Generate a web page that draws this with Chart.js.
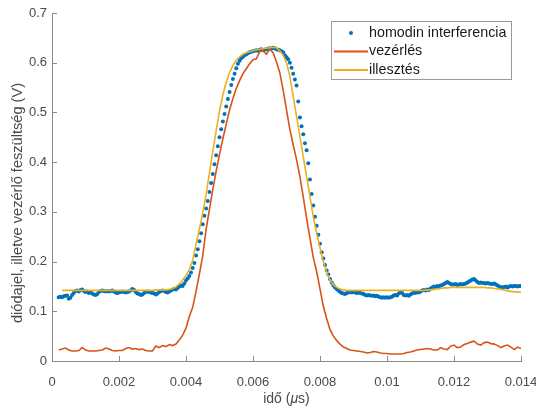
<!DOCTYPE html>
<html>
<head>
<meta charset="utf-8">
<script src="https://cdn.jsdelivr.net/npm/chart.js@4/dist/chart.umd.min.js"></script>
<style>
  html, body { margin: 0; padding: 0; background: #ffffff; }
  #plot { display: block; }
</style>
</head>
<body>
<canvas id="plot" width="536" height="410"></canvas>
<script>
// Homodyne interference signal (dots), sampled every 0.05 ns from 0.0002
const homodinStart = 0.0002;
const homodinStep = 0.00005;
const homodinValues = [
  0.128,0.129,0.128,0.130,0.131,0.132,0.125,0.127,0.133,0.137,0.141,0.142,0.140,0.143,0.144,0.141,0.139,0.140,0.137,0.139,
  0.136,0.134,0.133,0.135,0.139,0.141,0.142,0.141,0.140,0.141,0.140,0.141,0.142,0.140,0.138,0.137,0.138,0.139,0.140,0.139,
  0.138,0.139,0.140,0.142,0.145,0.143,0.139,0.136,0.135,0.133,0.134,0.137,0.139,0.140,0.139,0.138,0.137,0.136,0.134,0.136,
  0.139,0.141,0.142,0.141,0.139,0.138,0.140,0.142,0.144,0.145,0.144,0.147,0.150,0.152,0.151,0.156,0.162,0.166,0.171,0.178,
  0.187,0.197,0.212,0.225,0.241,0.257,0.275,0.292,0.307,0.322,0.340,0.358,0.376,0.396,0.414,0.432,0.450,0.466,0.482,0.497,
  0.512,0.527,0.541,0.555,0.567,0.578,0.589,0.598,0.604,0.609,0.612,0.615,0.617,0.619,0.621,0.622,0.623,0.624,0.625,0.624,
  0.626,0.627,0.625,0.626,0.627,0.628,0.629,0.628,0.630,0.629,0.627,0.626,0.625,0.623,0.621,0.615,0.611,0.607,0.600,0.590,
  0.578,0.566,0.554,0.522,0.490,0.472,0.456,0.438,0.424,0.398,0.365,0.336,0.313,0.290,0.272,0.254,0.236,0.219,0.206,0.193,
  0.182,0.174,0.165,0.158,0.152,0.148,0.145,0.142,0.139,0.137,0.136,0.135,0.137,0.138,0.139,0.138,0.139,0.138,0.137,0.138,
  0.137,0.136,0.135,0.133,0.132,0.133,0.132,0.131,0.132,0.130,0.131,0.129,0.128,0.127,0.128,0.127,0.128,0.127,0.128,0.129,
  0.132,0.133,0.132,0.136,0.138,0.137,0.133,0.132,0.133,0.131,0.134,0.136,0.138,0.137,0.139,0.138,0.140,0.142,0.143,0.142,
  0.144,0.143,0.146,0.148,0.150,0.149,0.151,0.150,0.152,0.153,0.155,0.157,0.159,0.157,0.155,0.154,0.154,0.155,0.153,0.154,
  0.155,0.154,0.155,0.156,0.158,0.160,0.162,0.164,0.165,0.162,0.159,0.157,0.158,0.157,0.157,0.156,0.157,0.156,0.155,0.155,
  0.156,0.154,0.152,0.150,0.149,0.148,0.149,0.150,0.148,0.150,0.151,0.150,0.151,0.151,0.150,0.151,0.151
];

// Modulator control voltage, every 0.1 ns from 0.0002
const vezerlesStart = 0.0002;
const vezerlesStep = 0.0001;
const vezerlesValues = [
  0.022,0.024,0.026,0.022,0.020,0.020,0.021,0.027,0.022,0.020,
  0.020,0.020,0.021,0.022,0.026,0.024,0.021,0.020,0.021,0.021,
  0.025,0.027,0.024,0.025,0.023,0.024,0.021,0.020,0.020,0.030,
  0.027,0.031,0.029,0.033,0.031,0.034,0.042,0.052,0.066,0.090,
  0.108,0.140,0.175,0.212,0.265,0.305,0.345,0.382,0.415,0.447,
  0.476,0.505,0.528,0.548,0.564,0.578,0.588,0.598,0.606,0.608,
  0.622,0.624,0.617,0.627,0.620,0.602,0.580,0.545,0.505,0.466,
  0.435,0.405,0.371,0.330,0.287,0.247,0.208,0.180,0.145,0.110,
  0.085,0.063,0.050,0.041,0.034,0.028,0.025,0.022,0.021,0.020,
  0.019,0.018,0.016,0.017,0.019,0.018,0.016,0.015,0.015,0.014,
  0.014,0.014,0.014,0.015,0.017,0.018,0.020,0.022,0.023,0.024,
  0.025,0.024,0.022,0.022,0.027,0.024,0.023,0.030,0.032,0.027,
  0.028,0.033,0.035,0.038,0.040,0.034,0.032,0.037,0.038,0.035,
  0.034,0.031,0.027,0.030,0.032,0.028,0.023,0.028,0.025
];

// Fitted curve, every 0.1 ns from 0.0003
const illesztesStart = 0.0003;
const illesztesStep = 0.0001;
const illesztesValues = [
  0.142,0.142,0.142,0.142,0.142,0.142,0.142,0.142,0.142,0.142,
  0.142,0.142,0.142,0.142,0.142,0.142,0.142,0.142,0.142,0.142,
  0.142,0.142,0.142,0.142,0.142,0.142,0.142,0.142,0.143,0.143,
  0.143,0.143,0.144,0.146,0.149,0.155,0.163,0.172,0.184,0.203,
  0.235,0.265,0.298,0.335,0.378,0.422,0.463,0.503,0.535,0.560,
  0.580,0.594,0.605,0.612,0.617,0.620,0.622,0.624,0.626,0.627,
  0.628,0.629,0.630,0.631,0.630,0.624,0.615,0.600,0.573,0.532,
  0.492,0.452,0.411,0.371,0.331,0.290,0.257,0.228,0.200,0.178,
  0.163,0.153,0.148,0.145,0.143,0.142,0.142,0.142,0.142,0.142,
  0.142,0.142,0.142,0.142,0.142,0.142,0.142,0.142,0.142,0.142,
  0.142,0.142,0.142,0.142,0.142,0.142,0.142,0.142,0.142,0.143,
  0.143,0.144,0.145,0.146,0.147,0.147,0.148,0.148,0.148,0.148,
  0.148,0.148,0.148,0.148,0.148,0.148,0.148,0.147,0.147,0.146,
  0.145,0.144,0.143,0.141,0.140,0.139,0.139,0.138
];

const seriesLabels = ['homodin interferencia', 'vezérlés', 'illesztés'];
const xTickValues = [0, 0.002, 0.004, 0.006, 0.008, 0.010, 0.012, 0.014];
const xTickLabels = ['0', '0.002', '0.004', '0.006', '0.008', '0.01', '0.012', '0.014'];
const yTickValues = [0, 0.1, 0.2, 0.3, 0.4, 0.5, 0.6, 0.7];
const yTickLabels = ['0', '0.1', '0.2', '0.3', '0.4', '0.5', '0.6', '0.7'];
const xTitleParts = ['idő (', 'μ', 's)'];
const yTitle = 'diódajel, illetve vezérlő feszültség (V)';

const COLORS = { blue: '#0072BD', orange: '#D95319', yellow: '#EDB120' };
const AXIS_COLOR = '#8a8a8a';
const TEXT_COLOR = '#4a4a4a';
const FONT = '"Liberation Sans", Arial, sans-serif';

function toPoints(start, step, values) {
  return values.map((v, i) => ({ x: +(start + i * step).toFixed(6), y: v }));
}

// Short inward tick marks on the left and bottom axes
const inwardTicks = {
  id: 'inwardTicks',
  afterDraw(chart) {
    const { ctx, chartArea: a, scales } = chart;
    ctx.save();
    ctx.strokeStyle = AXIS_COLOR;
    ctx.lineWidth = 1;
    ctx.beginPath();
    xTickValues.forEach(v => {
      const px = Math.round(scales.x.getPixelForValue(v)) + 0.5;
      ctx.moveTo(px, a.bottom);
      ctx.lineTo(px, a.bottom - 5);
    });
    yTickValues.forEach(v => {
      const py = Math.round(scales.y.getPixelForValue(v)) + 0.5;
      ctx.moveTo(a.left, py);
      ctx.lineTo(a.left + 5, py);
    });
    ctx.stroke();
    ctx.restore();
  }
};

// Axis titles: x title with an italic mu, rotated y title
const axisTitles = {
  id: 'axisTitles',
  afterDraw(chart) {
    const { ctx, chartArea: a } = chart;
    ctx.save();
    ctx.fillStyle = TEXT_COLOR;
    ctx.textBaseline = 'middle';
    const normal = '14px ' + FONT;
    const italic = 'italic 14px ' + FONT;
    const fonts = [normal, italic, normal];
    let total = 0;
    const widths = xTitleParts.map((t, i) => { ctx.font = fonts[i]; const w = ctx.measureText(t).width; total += w; return w; });
    let x = (a.left + a.right) / 2 - total / 2;
    xTitleParts.forEach((t, i) => {
      ctx.font = fonts[i];
      ctx.textAlign = 'left';
      ctx.fillText(t, x, 399);
      x += widths[i];
    });
    ctx.translate(18, 203);
    ctx.rotate(-Math.PI / 2);
    ctx.font = '14.6px ' + FONT;
    ctx.textAlign = 'center';
    ctx.fillText(yTitle, 0, 0);
    ctx.restore();
  }
};

// Boxed legend in the upper right corner of the plot
const boxLegend = {
  id: 'boxLegend',
  afterDraw(chart) {
    const { ctx } = chart;
    const box = { x: 331.5, y: 21.5, w: 180, h: 58 };
    ctx.save();
    ctx.fillStyle = '#ffffff';
    ctx.fillRect(box.x, box.y, box.w, box.h);
    ctx.strokeStyle = '#9a9a9a';
    ctx.lineWidth = 1;
    ctx.strokeRect(box.x, box.y, box.w, box.h);
    const rows = [33, 51.5, 70];
    chart.data.datasets.forEach((ds, i) => {
      const y = rows[i];
      if (i === 0) {
        ctx.fillStyle = ds.backgroundColor;
        ctx.beginPath();
        ctx.arc(351, y, 2, 0, Math.PI * 2);
        ctx.fill();
      } else {
        ctx.strokeStyle = ds.borderColor;
        ctx.lineWidth = 2;
        ctx.beginPath();
        ctx.moveTo(334, y);
        ctx.lineTo(368, y);
        ctx.stroke();
      }
      ctx.fillStyle = '#1a1a1a';
      ctx.font = '14.3px ' + FONT;
      ctx.textAlign = 'left';
      ctx.textBaseline = 'middle';
      ctx.fillText(ds.label, 369, y);
    });
    ctx.restore();
  }
};

new Chart(document.getElementById('plot'), {
  type: 'scatter',
  data: {
    datasets: [
      {
        label: seriesLabels[0],
        data: toPoints(homodinStart, homodinStep, homodinValues),
        showLine: false,
        pointRadius: 2,
        pointBorderWidth: 0,
        backgroundColor: COLORS.blue,
        borderColor: COLORS.blue,
        order: 3
      },
      {
        label: seriesLabels[1],
        data: toPoints(vezerlesStart, vezerlesStep, vezerlesValues),
        showLine: true,
        pointRadius: 0,
        borderWidth: 1.6,
        borderColor: COLORS.orange,
        backgroundColor: COLORS.orange,
        order: 2
      },
      {
        label: seriesLabels[2],
        data: toPoints(illesztesStart, illesztesStep, illesztesValues),
        showLine: true,
        pointRadius: 0,
        borderWidth: 1.6,
        borderColor: COLORS.yellow,
        backgroundColor: COLORS.yellow,
        order: 1
      }
    ]
  },
  options: {
    responsive: false,
    animation: false,
    devicePixelRatio: 1,
    layout: { padding: { left: 0, right: 15, top: 13, bottom: 0 } },
    plugins: { legend: { display: false }, tooltip: { enabled: false } },
    scales: {
      x: {
        type: 'linear',
        min: 0,
        max: 0.014,
        afterBuildTicks: s => { s.ticks = xTickValues.map(v => ({ value: v })); },
        afterFit: s => { s.height = 49; s.paddingLeft = 0; s.paddingRight = 0; },
        grid: { display: false, drawTicks: false },
        border: { display: true, color: AXIS_COLOR, width: 1 },
        ticks: {
          padding: 14,
          color: TEXT_COLOR,
          font: { family: FONT, size: 13 },
          maxRotation: 0,
          callback: (v, i) => xTickLabels[i]
        }
      },
      y: {
        type: 'linear',
        min: 0,
        max: 0.7,
        afterBuildTicks: s => { s.ticks = yTickValues.map(v => ({ value: v })); },
        afterFit: s => { s.width = 52; s.paddingTop = 0; s.paddingBottom = 0; },
        grid: { display: false, drawTicks: false },
        border: { display: true, color: AXIS_COLOR, width: 1 },
        ticks: {
          padding: 5,
          color: TEXT_COLOR,
          font: { family: FONT, size: 13 },
          callback: (v, i) => yTickLabels[i]
        }
      }
    }
  },
  plugins: [inwardTicks, axisTitles, boxLegend]
});
</script>
</body>
</html>
